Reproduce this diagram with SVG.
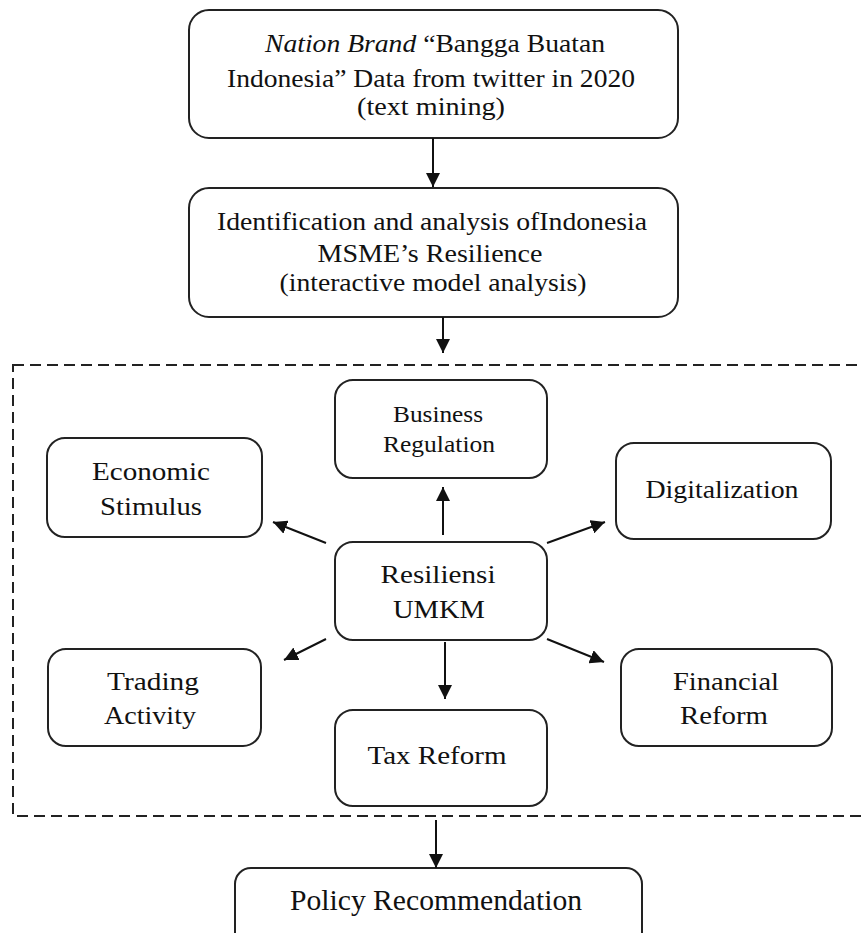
<svg xmlns="http://www.w3.org/2000/svg" width="862" height="933" viewBox="0 0 862 933">
<style>
.box{fill:#fff;stroke:#222;stroke-width:2}
.t{font-family:"Liberation Serif","Times New Roman",serif;fill:#111;text-anchor:middle}
.c{stroke:#111;stroke-width:2;fill:none;marker-end:url(#ah)}
</style>
<defs>
<marker id="ah" viewBox="0 0 10 10" refX="10" refY="5" markerWidth="7" markerHeight="7" markerUnits="strokeWidth" orient="auto">
<path d="M0,0 L10,5 L0,10 z" fill="#111"/>
</marker>
</defs>
<rect x="13" y="365" width="870" height="451" fill="none" stroke="#222" stroke-width="2" stroke-dasharray="11,6"/>
<g id="n1">
<rect class="box" x="189" y="10" width="489" height="128" rx="20"/>
<text class="t" font-size="25" x="435" y="52" textLength="340" lengthAdjust="spacingAndGlyphs"><tspan font-style="italic">Nation Brand</tspan> “Bangga Buatan</text>
<text class="t" font-size="25" x="431" y="87" textLength="408" lengthAdjust="spacingAndGlyphs">Indonesia” Data from twitter in 2020</text>
<text class="t" font-size="25" x="431" y="115" textLength="148" lengthAdjust="spacingAndGlyphs">(text mining)</text>
</g>
<g id="n2">
<rect class="box" x="189" y="188" width="489" height="129" rx="20"/>
<text class="t" font-size="25" x="432" y="230" textLength="430" lengthAdjust="spacingAndGlyphs">Identification and analysis ofIndonesia</text>
<text class="t" font-size="25" x="430" y="262" textLength="225" lengthAdjust="spacingAndGlyphs">MSME’s Resilience</text>
<text class="t" font-size="25" x="433" y="291" textLength="307" lengthAdjust="spacingAndGlyphs">(interactive model analysis)</text>
</g>
<g id="n_business">
<rect class="box" x="335" y="380" width="212" height="98" rx="18"/>
<text class="t" font-size="23" x="438" y="422" textLength="90" lengthAdjust="spacingAndGlyphs">Business</text>
<text class="t" font-size="23" x="439" y="452" textLength="112" lengthAdjust="spacingAndGlyphs">Regulation</text>
</g>
<g id="n_economic">
<rect class="box" x="47" y="438" width="215" height="99" rx="18"/>
<text class="t" font-size="26" x="151" y="480" textLength="118" lengthAdjust="spacingAndGlyphs">Economic</text>
<text class="t" font-size="26" x="151" y="515" textLength="102" lengthAdjust="spacingAndGlyphs">Stimulus</text>
</g>
<g id="n_digital">
<rect class="box" x="616" y="443" width="215" height="96" rx="18"/>
<text class="t" font-size="26" x="722" y="498" textLength="153" lengthAdjust="spacingAndGlyphs">Digitalization</text>
</g>
<g id="n_resiliensi">
<rect class="box" x="335" y="542" width="212" height="98" rx="18"/>
<text class="t" font-size="26" x="438" y="583" textLength="115" lengthAdjust="spacingAndGlyphs">Resiliensi</text>
<text class="t" font-size="26" x="439" y="618" textLength="92" lengthAdjust="spacingAndGlyphs">UMKM</text>
</g>
<g id="n_trading">
<rect class="box" x="48" y="649" width="213" height="97" rx="18"/>
<text class="t" font-size="26" x="153" y="690" textLength="92" lengthAdjust="spacingAndGlyphs">Trading</text>
<text class="t" font-size="26" x="150" y="724" textLength="92" lengthAdjust="spacingAndGlyphs">Activity</text>
</g>
<g id="n_financial">
<rect class="box" x="621" y="649" width="211" height="97" rx="18"/>
<text class="t" font-size="26" x="726" y="690" textLength="106" lengthAdjust="spacingAndGlyphs">Financial</text>
<text class="t" font-size="26" x="724" y="724" textLength="88" lengthAdjust="spacingAndGlyphs">Reform</text>
</g>
<g id="n_tax">
<rect class="box" x="335" y="710" width="212" height="96" rx="18"/>
<text class="t" font-size="26" x="437" y="764" textLength="139" lengthAdjust="spacingAndGlyphs">Tax Reform</text>
</g>
<g id="n_policy">
<rect class="box" x="235" y="868" width="407" height="80" rx="16"/>
<text class="t" font-size="29" x="436" y="910" textLength="292" lengthAdjust="spacingAndGlyphs">Policy Recommendation</text>
</g>
<g id="connectors">
<line class="c" x1="433" y1="138" x2="433" y2="187"/>
<line class="c" x1="443" y1="317" x2="443" y2="353"/>
<line class="c" x1="443" y1="535" x2="443" y2="487"/>
<line class="c" x1="326" y1="543" x2="273" y2="522"/>
<line class="c" x1="547" y1="543" x2="605" y2="522"/>
<line class="c" x1="326" y1="639" x2="284" y2="660"/>
<line class="c" x1="547" y1="639" x2="604" y2="662"/>
<line class="c" x1="445" y1="642" x2="445" y2="699"/>
<line class="c" x1="436" y1="820" x2="436" y2="868"/>
</g>
</svg>
